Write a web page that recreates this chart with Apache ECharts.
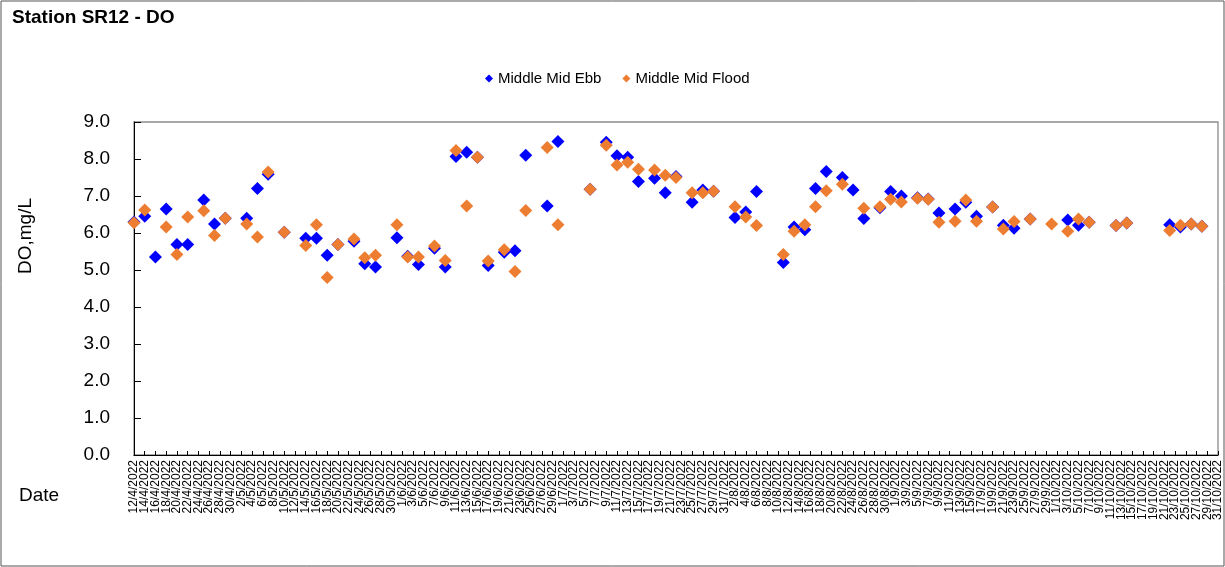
<!DOCTYPE html>
<html>
<head>
<meta charset="utf-8">
<script src="https://cdn.jsdelivr.net/npm/echarts@6/dist/echarts.min.js"></script>
<style>
html,body{margin:0;padding:0;background:#fff;}
#chart{width:1225px;height:567px;}
</style>
</head>
<body>
<div id="chart"></div>
<script>
// Sampling dates (d/m/yyyy)
var dates = ["12/4/2022","14/4/2022","16/4/2022","18/4/2022","20/4/2022","22/4/2022","25/4/2022","27/4/2022","29/4/2022",
"3/5/2022","5/5/2022","7/5/2022","10/5/2022","14/5/2022","16/5/2022","18/5/2022","20/5/2022","23/5/2022","25/5/2022","27/5/2022","31/5/2022",
"2/6/2022","4/6/2022","7/6/2022","9/6/2022","11/6/2022","13/6/2022","15/6/2022","17/6/2022","20/6/2022","22/6/2022","24/6/2022","28/6/2022","30/6/2022",
"6/7/2022","9/7/2022","11/7/2022","13/7/2022","15/7/2022","18/7/2022","20/7/2022","22/7/2022","25/7/2022","27/7/2022","29/7/2022",
"2/8/2022","4/8/2022","6/8/2022","11/8/2022","13/8/2022","15/8/2022","17/8/2022","19/8/2022","22/8/2022","24/8/2022","26/8/2022","29/8/2022","31/8/2022",
"2/9/2022","5/9/2022","7/9/2022","9/9/2022","12/9/2022","14/9/2022","16/9/2022","19/9/2022","21/9/2022","23/9/2022","26/9/2022","30/9/2022",
"3/10/2022","5/10/2022","7/10/2022","12/10/2022","14/10/2022","22/10/2022","24/10/2022","26/10/2022","28/10/2022"];

var ebb = [6.30,6.45,5.35,6.65,5.69,5.69,6.89,6.24,6.40,
6.40,7.20,7.59,6.02,5.86,5.86,5.40,5.69,5.78,5.17,5.08,5.87,
5.37,5.15,5.59,5.08,8.07,8.18,8.05,5.12,5.48,5.52,8.10,6.73,8.47,
7.18,8.45,8.09,8.05,7.39,7.48,7.09,7.53,6.83,7.16,7.13,
6.42,6.57,7.12,5.20,6.16,6.09,7.20,7.66,7.50,7.16,6.39,6.68,7.12,
7.00,6.95,6.92,6.54,6.65,6.83,6.45,6.70,6.21,6.13,6.38,null,
6.35,6.21,6.29,6.20,6.27,6.22,6.16,6.24,6.18];

var flood = [6.28,6.62,null,6.16,5.42,6.43,6.60,5.93,6.40,
6.24,5.89,7.65,6.02,5.66,6.22,4.80,5.69,5.84,5.33,5.40,6.22,
5.35,5.35,5.65,5.26,8.23,6.73,8.05,5.24,5.55,4.96,6.61,8.31,6.22,
7.18,8.37,7.84,7.91,7.72,7.70,7.56,7.50,7.09,7.09,7.13,
6.71,6.43,6.20,5.42,6.05,6.22,6.71,7.14,7.32,null,6.67,6.71,6.91,
6.84,6.94,6.91,6.29,6.32,6.89,6.32,6.70,6.11,6.31,6.38,6.24,
6.05,6.38,6.29,6.20,6.27,6.07,6.21,6.24,6.18];

var axisStart = "12/4/2022";
var axisEnd = "31/10/2022";
var labelStepDays = 2;
var yTicks = [0,1,2,3,4,5,6,7,8,9];

var DAY = 86400000;
function parseD(s){var p=s.split('/');return Date.UTC(+p[2],+p[1]-1,+p[0]);}
var t0 = parseD(axisStart);
function dayIdx(s){return Math.round((parseD(s)-t0)/DAY);}
function fmtDay(d){var dt=new Date(t0+d*DAY);return dt.getUTCDate()+'/'+(dt.getUTCMonth()+1)+'/'+dt.getUTCFullYear();}
function pts(vals){var out=[];for(var i=0;i<dates.length;i++){if(vals[i]!=null)out.push([dayIdx(dates[i]),vals[i]]);}return out;}
// every calendar day of the axis, as categories
var dayCats = [];
for (var d=0; d<=dayIdx(axisEnd); d++) dayCats.push(fmtDay(d));

var chart = echarts.init(document.getElementById('chart'), null, {renderer:'canvas'});
var font = '"Liberation Sans", Arial, sans-serif';
chart.setOption({
  animation:false,
  backgroundColor:'#fff',
  textStyle:{fontFamily:font},
  grid:{left:134,top:122,right:7,bottom:112,show:true,borderColor:'#8c8c8c',borderWidth:1.3,backgroundColor:'transparent'},
  legend:{
    left:480, top:66, itemWidth:8, itemHeight:8, itemGap:21,
    textStyle:{fontSize:15,color:'#000',fontFamily:font},
    data:[{name:'Middle Mid Ebb',icon:'diamond'},{name:'Middle Mid Flood',icon:'diamond'}]
  },
  xAxis:{
    type:'category', data:dayCats, boundaryGap:false,
    axisLine:{show:true,lineStyle:{color:'#000',width:1}},
    axisTick:{show:true,inside:true,length:4,interval:labelStepDays-1,lineStyle:{color:'#000'}},
    splitLine:{show:false},
    axisLabel:{rotate:90,fontSize:12,color:'#000',margin:5,fontFamily:font,interval:0,hideOverlap:false,
      formatter:function(v,idx){return idx%labelStepDays===0?v:'';}}
  },
  yAxis:{
    type:'value', min:yTicks[0], max:yTicks[yTicks.length-1], interval:1,
    axisLine:{show:true,lineStyle:{color:'#000',width:1}},
    axisTick:{show:true,inside:true,length:7,lineStyle:{color:'#000'}},
    splitLine:{show:false},
    axisLabel:{fontSize:19,color:'#000',margin:24,fontFamily:font,formatter:function(v){return v.toFixed(1);}}
  },
  graphic:[
    {type:'rect',shape:{x:1,y:1,width:1223,height:565},style:{fill:'none',stroke:'#555',lineWidth:1},silent:true,z:-1},
    {type:'text',left:12,top:8,style:{text:'Station SR12 - DO',font:'bold 19px '+font,fill:'#000'}},
    {type:'text',x:26,y:236,rotation:Math.PI/2,style:{text:'DO,mg/L',font:'19px '+font,fill:'#000',align:'center',verticalAlign:'middle'}},
    {type:'text',x:19,y:496,style:{text:'Date',font:'19px '+font,fill:'#000',align:'left',verticalAlign:'middle'}}
  ],
  series:[
    {name:'Middle Mid Ebb',type:'scatter',symbol:'diamond',symbolSize:13,clip:false,itemStyle:{color:'#0000FF',opacity:1},data:pts(ebb)},
    {name:'Middle Mid Flood',type:'scatter',symbol:'diamond',symbolSize:13,clip:false,itemStyle:{color:'#ED7D31',opacity:1},data:pts(flood)}
  ]
});
</script>
</body>
</html>
